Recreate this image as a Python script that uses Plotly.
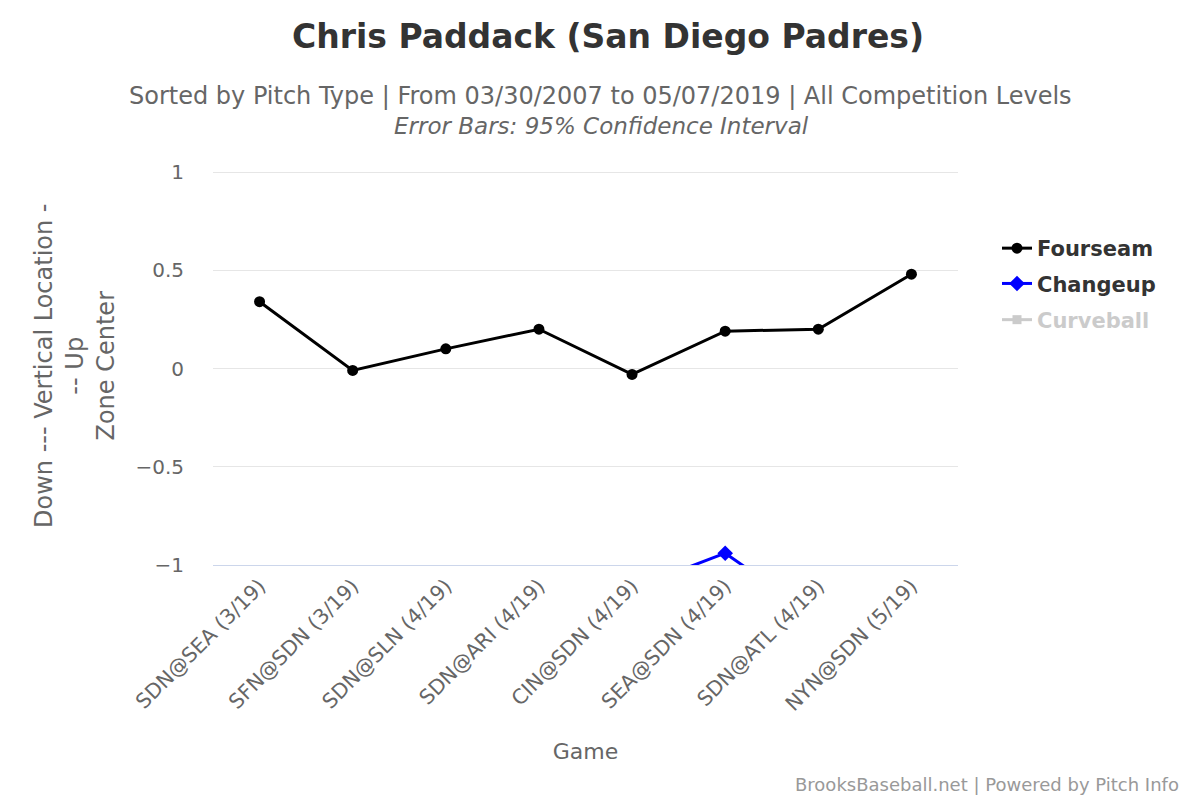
import plotly.graph_objects as go

games = ["SDN@SEA (3/19)", "SFN@SDN (3/19)", "SDN@SLN (4/19)", "SDN@ARI (4/19)",
         "CIN@SDN (4/19)", "SEA@SDN (4/19)", "SDN@ATL (4/19)", "NYN@SDN (5/19)"]
fourseam = [0.34, -0.01, 0.10, 0.20, -0.03, 0.19, 0.20, 0.48]
changeup = [-1.40, -1.30, -1.45, -1.25, -1.12, -0.94, -1.27, -1.35]
curveball = [-1.60, -1.50, -1.70, -1.55, -1.45, -1.60, -1.50, -1.65]
yticks = [-1, -0.5, 0, 0.5, 1]
ytick_text = ["\u22121", "\u22120.5", "0", "0.5", "1"]

FONT = "DejaVu Sans"
OFF = 8  # page body margin offset

# target plot area in screen pixels
L, R, T, B = 213, 958, 172, 565
W, H = 1200, 800
ml, mt = L - OFF, T - OFF
mr, mb = W - (R - OFF), H - (B - OFF)
plot_w = W - ml - mr
plot_h = H - mt - mb

def px(sx):
    return (sx - OFF - ml) / plot_w

def py(sy):
    return (H - mb - (sy - OFF)) / plot_h

fig = go.Figure()
fig.add_trace(go.Scatter(x=games, y=fourseam, name="Fourseam", mode="lines+markers",
                         legendgroup="a",
                         line=dict(color="#000000", width=3),
                         marker=dict(symbol="circle", size=11, color="#000000")))
fig.add_trace(go.Scatter(x=games, y=changeup, name="Changeup", mode="lines+markers",
                         legendgroup="b",
                         line=dict(color="#0000ff", width=3),
                         marker=dict(symbol="diamond", size=12, color="#0000ff")))
fig.add_trace(go.Scatter(x=games, y=curveball, name="Curveball", mode="lines+markers",
                         visible="legendonly", legend="legend2",
                         line=dict(color="#999999", width=3),
                         marker=dict(symbol="square", size=9, color="#999999")))

fig.update_layout(
    width=W, height=H,
    paper_bgcolor="white", plot_bgcolor="white",
    margin=dict(l=ml, r=mr, t=mt, b=mb),
    font=dict(family=FONT, color="#666666"),
    title=dict(text="Chris Paddack (San Diego Padres)", x=0.5, xanchor="center",
               y=1 - (36 - OFF) / H, yanchor="middle",
               font=dict(family=FONT, size=33, color="#333333", weight="bold")),
    showlegend=True,
    legend=dict(x=px(997), xanchor="left", y=py(266), yanchor="middle",
                font=dict(family=FONT, size=21, color="#333333", weight="bold"),
                tracegroupgap=5, itemwidth=30, bgcolor="rgba(0,0,0,0)"),
    legend2=dict(x=px(997), xanchor="left", y=py(320), yanchor="middle",
                 font=dict(family=FONT, size=21, color="#999999", weight="bold"),
                 itemwidth=30, bgcolor="rgba(0,0,0,0)"),
    xaxis=dict(type="category", range=[-0.5, 7.5], showgrid=False,
               showline=True, linecolor="#ccd6eb", linewidth=1,
               tickangle=-45, tickfont=dict(family=FONT, size=20.5, color="#666666"),
               ticks="", fixedrange=True,
               title=dict(text="Game", font=dict(family=FONT, size=22, color="#666666"),
                          standoff=28)),
    yaxis=dict(range=[-1, 1], tickvals=yticks, ticktext=ytick_text,
               showgrid=True, gridcolor="#e6e6e6", gridwidth=1,
               zeroline=True, zerolinecolor="#e6e6e6", zerolinewidth=1,
               showline=False, ticks="", ticklabelstandoff=28,
               tickfont=dict(family=FONT, size=20, color="#666666")),
    shapes=[dict(type="line", xref="paper", yref="y", x0=0, x1=1,
                 y0=yticks[-1], y1=yticks[-1], layer="below",
                 line=dict(color="#e6e6e6", width=2))],
)

fig.add_annotation(text="Sorted by Pitch Type | From 03/30/2007 to 05/07/2019 | All Competition Levels",
                   xref="paper", yref="paper", x=px(600), y=py(96), yanchor="middle",
                   showarrow=False, font=dict(family=FONT, size=24, color="#666666"))
fig.add_annotation(text="<i>Error Bars: 95% Confidence Interval</i>",
                   xref="paper", yref="paper", x=px(601), y=py(126), yanchor="middle",
                   showarrow=False, font=dict(family=FONT, size=23, color="#666666"))
fig.add_annotation(text="BrooksBaseball.net | Powered by Pitch Info",
                   xref="paper", yref="paper", x=px(1181), xanchor="right",
                   y=py(784), yanchor="middle", showarrow=False,
                   font=dict(family=FONT, size=18, color="#999999"))
fig.add_annotation(text="Down --- Vertical Location -<br>-- Up<br>Zone Center",
                   xref="paper", yref="paper", x=px(75), xanchor="center",
                   y=py(366), yanchor="middle", showarrow=False, textangle=-90,
                   font=dict(family=FONT, size=24, color="#666666"))

fig.write_html("out.html")
